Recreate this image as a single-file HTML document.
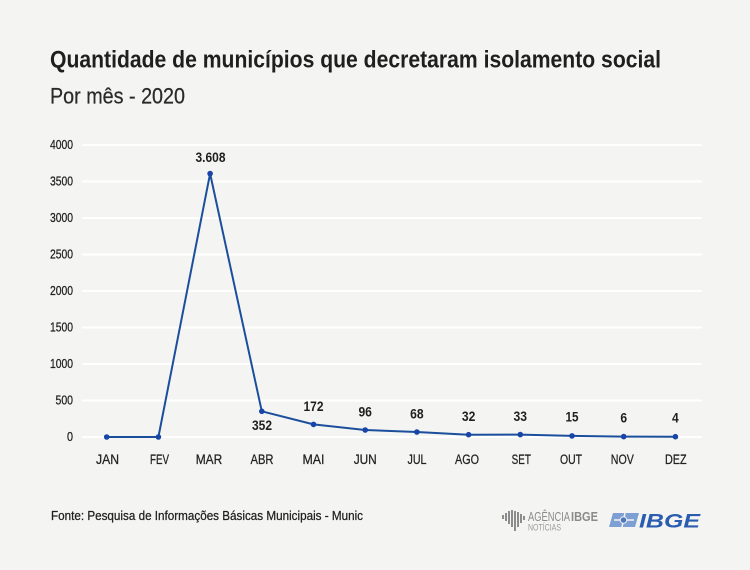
<!DOCTYPE html>
<html><head><meta charset="utf-8">
<style>
html,body{margin:0;padding:0;background:#f4f4f2;}
svg{display:block;}
text{font-family:"Liberation Sans",sans-serif;}
</style></head>
<body>
<svg width="750" height="570" viewBox="0 0 750 570" xmlns="http://www.w3.org/2000/svg">
<rect width="750" height="570" fill="#f4f4f2"/>
<text x="50" y="67.3" font-size="24" font-weight="bold" fill="#1f1f1f" textLength="611" lengthAdjust="spacingAndGlyphs">Quantidade de municípios que decretaram isolamento social</text>
<text x="50" y="103.3" font-size="22.5" fill="#2a2a2a" stroke="#2a2a2a" stroke-width="0.25" textLength="135" lengthAdjust="spacingAndGlyphs">Por mês - 2020</text>

<g stroke="#ffffff" stroke-width="2">
<line x1="82" y1="145" x2="702" y2="145"/>
<line x1="82" y1="181.5" x2="702" y2="181.5"/>
<line x1="82" y1="218" x2="702" y2="218"/>
<line x1="82" y1="254.5" x2="702" y2="254.5"/>
<line x1="82" y1="291" x2="702" y2="291"/>
<line x1="82" y1="327.5" x2="702" y2="327.5"/>
<line x1="82" y1="364" x2="702" y2="364"/>
<line x1="82" y1="400.5" x2="702" y2="400.5"/>
<line x1="82" y1="437" x2="702" y2="437"/>
</g>

<g font-size="12.5" fill="#222" stroke="#222" stroke-width="0.25" text-anchor="end">
<text x="73" y="149" textLength="23" lengthAdjust="spacingAndGlyphs">4000</text>
<text x="73" y="185.5" textLength="23" lengthAdjust="spacingAndGlyphs">3500</text>
<text x="73" y="222" textLength="23" lengthAdjust="spacingAndGlyphs">3000</text>
<text x="73" y="258.5" textLength="23" lengthAdjust="spacingAndGlyphs">2500</text>
<text x="73" y="295" textLength="23" lengthAdjust="spacingAndGlyphs">2000</text>
<text x="73" y="331.5" textLength="23" lengthAdjust="spacingAndGlyphs">1500</text>
<text x="73" y="368" textLength="23" lengthAdjust="spacingAndGlyphs">1000</text>
<text x="73" y="404.5" textLength="17.5" lengthAdjust="spacingAndGlyphs">500</text>
<text x="73" y="441" textLength="6" lengthAdjust="spacingAndGlyphs">0</text>
</g>

<polyline fill="none" stroke="#1b4f9c" stroke-width="2" stroke-linejoin="round"
points="106.7,437 158.4,437 210.1,173.6 261.8,411.3 313.5,424.4 365.2,430 416.9,432 468.6,434.7 520.3,434.6 572,435.9 623.7,436.6 675.4,436.7"/>
<g fill="#1a45a8">
<circle cx="106.7" cy="437" r="2.8"/>
<circle cx="158.4" cy="437" r="2.8"/>
<circle cx="210.1" cy="173.6" r="2.8"/>
<circle cx="261.8" cy="411.3" r="2.8"/>
<circle cx="313.5" cy="424.4" r="2.8"/>
<circle cx="365.2" cy="430" r="2.8"/>
<circle cx="416.9" cy="432" r="2.8"/>
<circle cx="468.6" cy="434.7" r="2.8"/>
<circle cx="520.3" cy="434.6" r="2.8"/>
<circle cx="572" cy="435.9" r="2.8"/>
<circle cx="623.7" cy="436.6" r="2.8"/>
<circle cx="675.4" cy="436.7" r="2.8"/>
</g>

<g font-size="13.5" font-weight="bold" fill="#1f1f1f" text-anchor="middle">
<text x="210.5" y="162" textLength="30" lengthAdjust="spacingAndGlyphs">3.608</text>
<text x="262" y="430" textLength="20" lengthAdjust="spacingAndGlyphs">352</text>
<text x="313.5" y="411" textLength="20" lengthAdjust="spacingAndGlyphs">172</text>
<text x="365.2" y="416.5" textLength="13.5" lengthAdjust="spacingAndGlyphs">96</text>
<text x="416.9" y="418.5" textLength="13.5" lengthAdjust="spacingAndGlyphs">68</text>
<text x="468.6" y="421" textLength="13.5" lengthAdjust="spacingAndGlyphs">32</text>
<text x="520.3" y="421" textLength="13.5" lengthAdjust="spacingAndGlyphs">33</text>
<text x="572" y="421.7" textLength="13" lengthAdjust="spacingAndGlyphs">15</text>
<text x="623.7" y="422.3" textLength="6.7" lengthAdjust="spacingAndGlyphs">6</text>
<text x="675.4" y="422.3" textLength="6.7" lengthAdjust="spacingAndGlyphs">4</text>
</g>

<g font-size="13.5" fill="#222" stroke="#222" stroke-width="0.25" text-anchor="middle">
<text x="107.5" y="464" textLength="23" lengthAdjust="spacingAndGlyphs">JAN</text>
<text x="159.5" y="464" textLength="19" lengthAdjust="spacingAndGlyphs">FEV</text>
<text x="209" y="464" textLength="26.5" lengthAdjust="spacingAndGlyphs">MAR</text>
<text x="262" y="464" textLength="23" lengthAdjust="spacingAndGlyphs">ABR</text>
<text x="313.5" y="464" textLength="22" lengthAdjust="spacingAndGlyphs">MAI</text>
<text x="365.2" y="464" textLength="23" lengthAdjust="spacingAndGlyphs">JUN</text>
<text x="417" y="464" textLength="19" lengthAdjust="spacingAndGlyphs">JUL</text>
<text x="467" y="464" textLength="24" lengthAdjust="spacingAndGlyphs">AGO</text>
<text x="521.3" y="464" textLength="19.3" lengthAdjust="spacingAndGlyphs">SET</text>
<text x="571" y="464" textLength="22" lengthAdjust="spacingAndGlyphs">OUT</text>
<text x="622.3" y="464" textLength="23" lengthAdjust="spacingAndGlyphs">NOV</text>
<text x="675.8" y="464" textLength="21.7" lengthAdjust="spacingAndGlyphs">DEZ</text>
</g>

<text x="51" y="520" font-size="12.5" fill="#1f1f1f" stroke="#1f1f1f" stroke-width="0.25" textLength="312" lengthAdjust="spacingAndGlyphs">Fonte: Pesquisa de Informações Básicas Municipais - Munic</text>

<!-- Agencia IBGE logo -->
<g fill="#8c8c8c">
<rect x="502" y="515" width="2" height="4"/>
<rect x="505" y="513" width="2" height="8"/>
<rect x="508" y="511" width="2" height="13"/>
<rect x="511" y="510" width="2" height="17"/>
<rect x="514" y="511" width="2" height="20"/>
<rect x="517" y="512" width="2" height="15"/>
<rect x="520" y="514" width="2" height="9"/>
<rect x="523" y="516" width="2" height="4"/>
</g>
<text x="528" y="521" font-size="13" fill="#8a8a8a" textLength="42" lengthAdjust="spacingAndGlyphs">AGÊNCIA</text>
<text x="571" y="521" font-size="13" font-weight="bold" fill="#8a8a8a" textLength="27" lengthAdjust="spacingAndGlyphs">IBGE</text>
<text x="528" y="530.5" font-size="9" fill="#9a9a9a" textLength="33" lengthAdjust="spacingAndGlyphs">NOTÍCIAS</text>

<!-- IBGE logo -->
<g>
<polygon points="613,513 639,513 635,527 609,527" fill="#7d9fd3"/>
<line x1="614" y1="520" x2="634" y2="520" stroke="#f4f4f2" stroke-width="1.5"/>
<line x1="625" y1="513" x2="622" y2="527" stroke="#f4f4f2" stroke-width="1.5"/>
<circle cx="623.5" cy="520" r="3.3" fill="#4d76bd" stroke="#f4f4f2" stroke-width="1"/>
</g>
<text x="639" y="527.5" font-size="19.5" font-weight="bold" font-style="italic" fill="#2a5cb0" textLength="61" lengthAdjust="spacingAndGlyphs">IBGE</text>
</svg>
</body></html>
